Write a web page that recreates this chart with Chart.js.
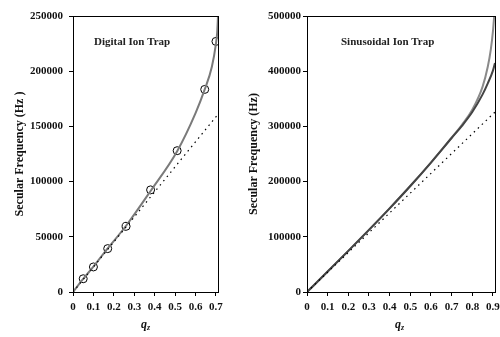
<!DOCTYPE html>
<html>
<head>
<meta charset="utf-8">
<script src="https://cdn.jsdelivr.net/npm/chart.js@4/dist/chart.umd.min.js"></script>
<style>
  html, body { margin: 0; padding: 0; background: #fff; overflow: hidden; }
  #wrap { position: relative; width: 500px; height: 337px; }
  canvas { position: absolute; top: 0; }
  #digital { left: 0; }
  #sinus { left: 235px; }
  .qz { position: absolute; top: 317px; font: italic bold 12px "Liberation Serif", serif; color: #111; }
  .qz sub { font-size: 8px; vertical-align: -2px; }
</style>
</head>
<body>
<div id="wrap">
  <canvas id="digital" width="235" height="337"></canvas>
  <canvas id="sinus" width="270" height="337"></canvas>
  <div class="qz" style="left:141px">q<sub>z</sub></div>
  <div class="qz" style="left:395px">q<sub>z</sub></div>
</div>
<script>
// digital ion trap: calculated curve, measured points, linear approximation
const digitalQ    = [0, 0.05, 0.1, 0.17, 0.26, 0.38, 0.51, 0.6, 0.645, 0.68, 0.7, 0.706, 0.71];
const digitalFreq = [0, 11800, 23000, 39500, 60000, 91500, 127500, 162000, 183500, 204000, 225000, 235000, 250000];
const digitalExpQ    = [0.05, 0.1, 0.17, 0.26, 0.38, 0.51, 0.645, 0.7];
const digitalExpFreq = [12000, 22700, 39300, 59500, 92500, 128000, 183500, 227000];
const digitalLinQ    = [0, 0.71];
const digitalLinFreq = [0, 161000];

// sinusoidal ion trap: exact, approximate and linear
const sinExactQ    = [0, 0.1, 0.2, 0.3, 0.4, 0.5, 0.6, 0.7, 0.75, 0.8, 0.85, 0.875, 0.89, 0.9, 0.906];
const sinExactFreq = [0, 37000, 74500, 112500, 151500, 192000, 234500, 279500, 303000, 330000, 372000, 408000, 440000, 472000, 500000];
const sinApproxQ    = [0, 0.1, 0.2, 0.3, 0.4, 0.5, 0.6, 0.7, 0.75, 0.8, 0.85, 0.875, 0.9, 0.91];
const sinApproxFreq = [0, 37000, 74500, 112500, 151500, 192000, 234500, 279000, 301000, 326000, 358000, 378000, 401000, 415000];
const sinLinQ    = [0, 0.91];
const sinLinFreq = [0, 326000];

const serif = '"Liberation Serif", "Times New Roman", serif';

function pts(xs, ys) {
  return xs.map((x, i) => ({ x: x, y: ys[i] }));
}

const frame = {
  id: 'frame',
  afterDraw(chart) {
    const a = chart.chartArea, ctx = chart.ctx;
    ctx.save();
    ctx.strokeStyle = '#000';
    ctx.lineWidth = 1;
    ctx.strokeRect(Math.round(a.left) + 0.5, Math.round(a.top) + 0.5, Math.round(a.right - a.left), Math.round(a.bottom - a.top));
    const lbl = chart.options.plugins.panelLabel;
    ctx.fillStyle = '#222';
    ctx.font = 'bold 11px ' + serif;
    ctx.textBaseline = 'middle';
    ctx.fillText(lbl.text, a.left + lbl.dx, a.top + lbl.dy);
    ctx.restore();
  }
};

function solid(data, color) {
  return { type: 'line', data: data, borderColor: color, borderWidth: 2, pointRadius: 0,
           cubicInterpolationMode: 'monotone', fill: false };
}

function dotted(data) {
  return { type: 'line', data: data, borderColor: '#000', borderWidth: 1.2, borderDash: [1.5, 4],
           pointRadius: 0, fill: false };
}

function makeChart(id, datasets, opt) {
  return new Chart(document.getElementById(id), {
    type: 'scatter',
    data: { datasets: datasets },
    options: {
      responsive: false,
      animation: false,
      layout: { padding: { left: 0, top: 16, right: opt.padRight, bottom: 0 } },
      plugins: { legend: { display: false }, tooltip: { enabled: false }, panelLabel: opt.label },
      scales: {
        x: {
          type: 'linear', min: 0, max: opt.xMax,
          afterFit: s => { s.height = 45; },
          border: { color: '#000', width: 1 },
          grid: { drawOnChartArea: false, drawTicks: true, tickLength: 4, color: '#000' },
          ticks: { stepSize: 0.1, includeBounds: false, maxRotation: 0, autoSkip: false, padding: 5,
                   color: '#111', font: { family: serif, size: 11, weight: 'bold' } }
        },
        y: {
          min: 0, max: opt.yMax,
          afterFit: s => { s.width = opt.yWidth; },
          border: { color: '#000', width: 1 },
          grid: { drawOnChartArea: false, drawTicks: true, tickLength: 4, color: '#000' },
          ticks: { stepSize: opt.yStep, padding: opt.yPad, color: '#111',
                   font: { family: serif, size: 11, weight: 'bold' },
                   callback: v => String(v) },
          title: { display: true, text: opt.yTitle, color: '#111', padding: { top: opt.titlePad, bottom: 0 },
                   font: { family: serif, size: 12, weight: 'bold' } }
        }
      }
    },
    plugins: [frame]
  });
}

makeChart('digital', [
  dotted(pts(digitalLinQ, digitalLinFreq)),
  solid(pts(digitalQ, digitalFreq), '#7a7a7a'),
  { type: 'scatter', data: pts(digitalExpQ, digitalExpFreq), pointStyle: 'circle', pointRadius: 4,
    borderColor: '#000', borderWidth: 1, backgroundColor: 'rgba(0,0,0,0)' }
], { xMax: 0.71, yMax: 250000, yStep: 50000, yWidth: 73, padRight: 17, titlePad: 13, yPad: 6,
     yTitle: 'Secular Frequency (Hz )', label: { text: 'Digital Ion Trap', dx: 21, dy: 26 } });

makeChart('sinus', [
  dotted(pts(sinLinQ, sinLinFreq)),
  solid(pts(sinApproxQ, sinApproxFreq), '#444'),
  solid(pts(sinExactQ, sinExactFreq), '#8a8a8a')
], { xMax: 0.91, yMax: 500000, yStep: 100000, yWidth: 72, padRight: 10, titlePad: 12, yPad: 2,
     yTitle: 'Secular Frequency (Hz)', label: { text: 'Sinusoidal Ion Trap', dx: 34, dy: 26 } });
</script>
</body>
</html>
